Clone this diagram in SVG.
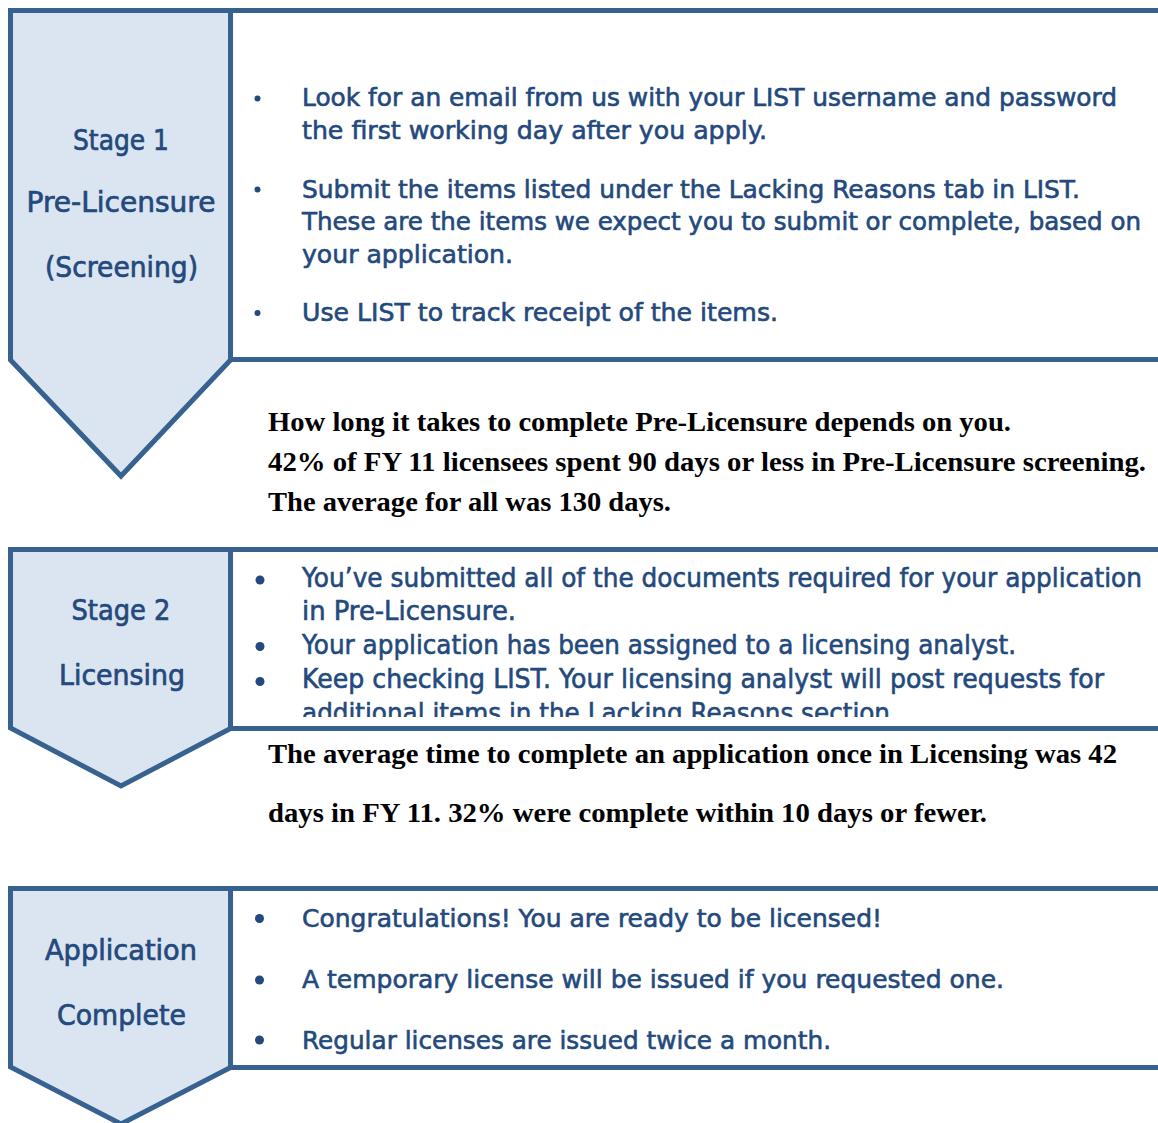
<svg xmlns="http://www.w3.org/2000/svg" width="1158" height="1123" viewBox="0 0 1158 1123">
<style>
.chev{fill:#DBE5F1;stroke:#37618F;stroke-width:5;stroke-linejoin:miter}
.box{fill:#FFFFFF;stroke:#37618F;stroke-width:5}
.lbl{font-family:"DejaVu Sans","Open Sans",sans-serif;font-size:27.5px;fill:#23497D;stroke:#23497D;stroke-width:0.7px;text-anchor:middle}
.b1{font-family:"DejaVu Sans","Open Sans",sans-serif;font-size:24px;fill:#23497D;stroke:#23497D;stroke-width:0.6px}
.b2{font-family:"DejaVu Sans","Open Sans",sans-serif;font-size:26px;fill:#23497D;stroke:#23497D;stroke-width:0.6px}
.b3{font-family:"DejaVu Sans","Open Sans",sans-serif;font-size:25px;fill:#23497D;stroke:#23497D;stroke-width:0.6px}
.note{font-family:"Liberation Serif","DejaVu Serif",serif;font-size:26.5px;font-weight:bold;fill:#000000}
.dot{fill:#23497D}
</style>
<defs>
<clipPath id="clip2"><rect x="233" y="552" width="925" height="165"/></clipPath>
</defs>
<rect width="1158" height="1123" fill="#FFFFFF"/>

<g id="stage1">
<polygon class="chev" points="10.5,10.5 230.5,10.5 230.5,360 121,476 10.5,360"/>
<rect class="box" x="230.5" y="10.5" width="940" height="349"/>
<text class="lbl" x="121" y="150" textLength="96" lengthAdjust="spacingAndGlyphs">Stage 1</text>
<text class="lbl" x="121" y="211.5" textLength="189" lengthAdjust="spacingAndGlyphs">Pre-Licensure</text>
<text class="lbl" x="121.5" y="277" textLength="153" lengthAdjust="spacingAndGlyphs">(Screening)</text>
<circle class="dot" cx="257.5" cy="98.5" r="3"/>
<circle class="dot" cx="257.5" cy="189.5" r="3"/>
<circle class="dot" cx="257.5" cy="313" r="3"/>
<text class="b1" x="302" y="106" textLength="815" lengthAdjust="spacingAndGlyphs">Look for an email from us with your LIST username and password</text>
<text class="b1" x="302" y="138.5" textLength="465" lengthAdjust="spacingAndGlyphs">the first working day after you apply.</text>
<text class="b1" x="302" y="197.5" textLength="778" lengthAdjust="spacingAndGlyphs">Submit the items listed under the Lacking Reasons tab in LIST.</text>
<text class="b1" x="302" y="229.5" textLength="839" lengthAdjust="spacingAndGlyphs">These are the items we expect you to submit or complete, based on</text>
<text class="b1" x="302" y="262.5" textLength="211" lengthAdjust="spacingAndGlyphs">your application.</text>
<text class="b1" x="302" y="320.5" textLength="476" lengthAdjust="spacingAndGlyphs">Use LIST to track receipt of the items.</text>
</g>

<g id="note1">
<text class="note" x="268" y="431" textLength="743" lengthAdjust="spacingAndGlyphs">How long it takes to complete Pre-Licensure depends on you.</text>
<text class="note" x="268" y="471" textLength="878" lengthAdjust="spacingAndGlyphs">42% of FY 11 licensees spent 90 days or less in Pre-Licensure screening.</text>
<text class="note" x="268" y="511" textLength="403" lengthAdjust="spacingAndGlyphs">The average for all was 130 days.</text>
</g>

<g id="stage2">
<polygon class="chev" points="10.5,549.5 230.5,549.5 230.5,728.5 121,786 10.5,728"/>
<rect class="box" x="230.5" y="549.5" width="940" height="179"/>
<text class="lbl" x="121" y="620" textLength="99" lengthAdjust="spacingAndGlyphs">Stage 2</text>
<text class="lbl" x="122" y="685" textLength="126" lengthAdjust="spacingAndGlyphs">Licensing</text>
<circle class="dot" cx="260" cy="580" r="4.5"/>
<circle class="dot" cx="260" cy="646.5" r="4.5"/>
<circle class="dot" cx="260" cy="681.5" r="4.5"/>
<text class="b2" x="302" y="587" textLength="840" lengthAdjust="spacingAndGlyphs">You’ve submitted all of the documents required for your application</text>
<text class="b2" x="302" y="620" textLength="214" lengthAdjust="spacingAndGlyphs">in Pre-Licensure.</text>
<text class="b2" x="302" y="653.5" textLength="714" lengthAdjust="spacingAndGlyphs">Your application has been assigned to a licensing analyst.</text>
<text class="b2" x="302" y="688" textLength="802" lengthAdjust="spacingAndGlyphs">Keep checking LIST. Your licensing analyst will post requests for</text>
<text class="b2" x="302" y="721.5" textLength="588" lengthAdjust="spacingAndGlyphs" clip-path="url(#clip2)">additional items in the Lacking Reasons section</text>
</g>

<g id="note2">
<text class="note" x="268" y="763" textLength="849" lengthAdjust="spacingAndGlyphs">The average time to complete an application once in Licensing was 42</text>
<text class="note" x="268" y="822" textLength="719" lengthAdjust="spacingAndGlyphs">days in FY 11. 32% were complete within 10 days or fewer.</text>
</g>

<g id="stage3">
<polygon class="chev" points="10.5,888.5 230.5,888.5 230.5,1067.5 121,1124 10.5,1067"/>
<rect class="box" x="230.5" y="888.5" width="940" height="179"/>
<text class="lbl" x="121" y="959.5" textLength="152" lengthAdjust="spacingAndGlyphs">Application</text>
<text class="lbl" x="121.5" y="1025" textLength="129" lengthAdjust="spacingAndGlyphs">Complete</text>
<circle class="dot" cx="259.5" cy="918.5" r="4.5"/>
<circle class="dot" cx="259.5" cy="980" r="4.5"/>
<circle class="dot" cx="259.5" cy="1040" r="4.5"/>
<text class="b3" x="302" y="926.5" textLength="580" lengthAdjust="spacingAndGlyphs">Congratulations! You are ready to be licensed!</text>
<text class="b3" x="302" y="988" textLength="702" lengthAdjust="spacingAndGlyphs">A temporary license will be issued if you requested one.</text>
<text class="b3" x="302" y="1048.5" textLength="529" lengthAdjust="spacingAndGlyphs">Regular licenses are issued twice a month.</text>
</g>

<g id="connectors"></g>
</svg>
